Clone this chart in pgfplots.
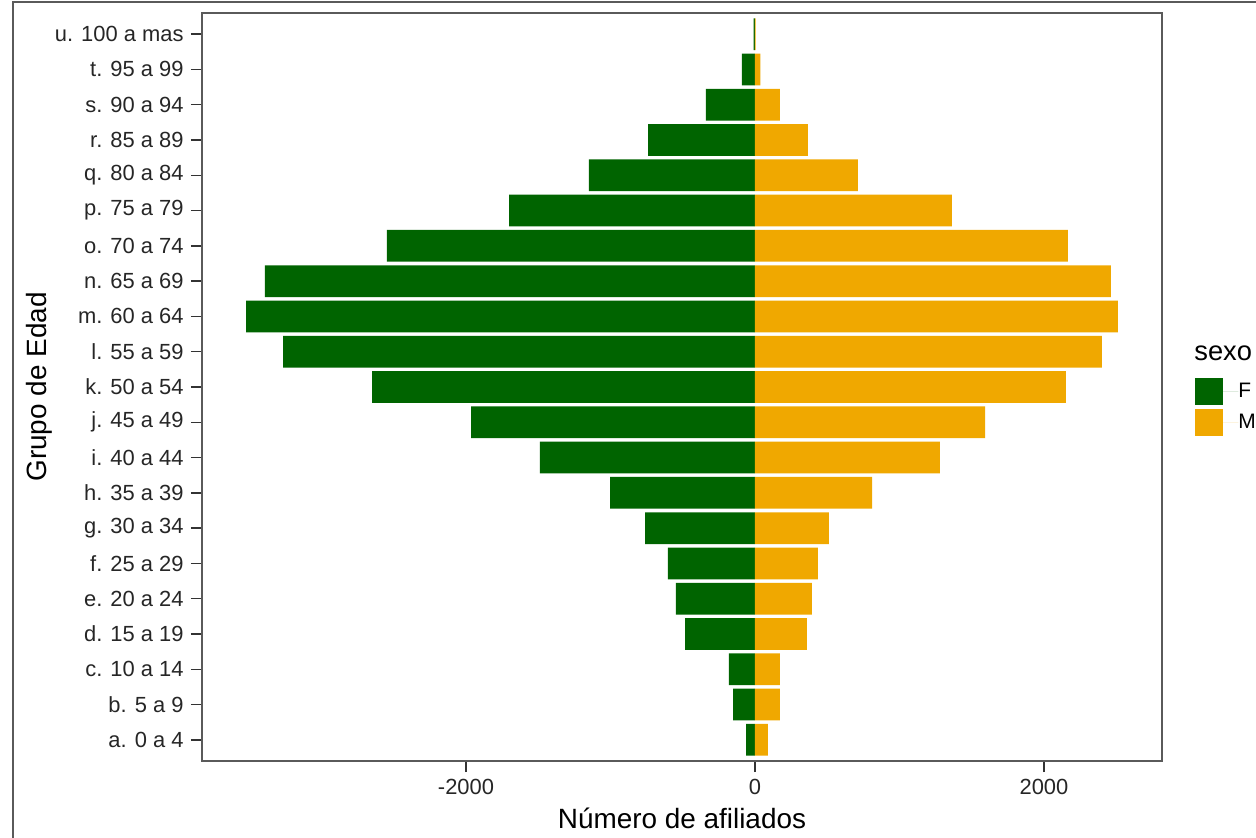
\documentclass[border=0pt]{standalone}
\usepackage{pgfplots}
\pgfplotsset{compat=1.18}
\usepackage{pgfplotstable}
\usepackage{fontspec}
\setmainfont{Liberation Sans}
\definecolor{fcol}{RGB}{0,100,0}
\definecolor{mcol}{RGB}{240,168,0}
\definecolor{framecol}{RGB}{90,90,90}

\pgfplotstableread{
y val
1 -62
2 -152
3 -180
4 -484
5 -547
6 -602
7 -761
8 -1003
9 -1488
10 -1965
11 -2650
12 -3266
13 -3522
14 -3391
15 -2547
16 -1702
17 -1149
18 -740
19 -339
20 -90
21 -10
}\dataF
\pgfplotstableread{
y val
1 90
2 173
3 173
4 360
5 394
6 436
7 512
8 810
9 1280
10 1592
11 2152
12 2401
13 2512
14 2464
15 2166
16 1363
17 713
18 367
19 173
20 37
21 4
}\dataM

\begin{document}
\begin{tikzpicture}
\useasboundingbox (0,0) rectangle (628bp,419bp);
\fill[white] (0,0) rectangle (628bp,419bp);
\draw[framecol, line width=0.9bp] (6.5bp,0) -- (6.5bp,418bp) -- (628bp,418bp);
\begin{axis}[
  at={(101bp,38.5bp)}, anchor=south west,
  scale only axis, width=480bp, height=374bp,
  xmin=-3827, xmax=2817, ymin=0.4, ymax=21.6,
  xbar, bar width=0.9, bar shift=0pt,
  xtick={-2000,0,2000}, xticklabels={-2000,0,2000},
  ytick={1,...,21},
  yticklabels={a. 0 a 4, b. 5 a 9, c. 10 a 14, d. 15 a 19, e. 20 a 24, f. 25 a 29, g. 30 a 34, h. 35 a 39, i. 40 a 44, j. 45 a 49, k. 50 a 54, l. 55 a 59, m. 60 a 64, n. 65 a 69, o. 70 a 74, p. 75 a 79, q. 80 a 84, r. 85 a 89, s. 90 a 94, t. 95 a 99, u. 100 a mas},
  tick align=outside, tick pos=left,
  major tick length=5.5bp,
  tick style={black!80, line width=0.7bp},
  axis line style={framecol, line width=0.9bp},
  ticklabel style={font=\fontsize{11}{13}\selectfont, text=black!85},
  yticklabel style={anchor=east, inner sep=0pt, xshift=-3.5bp},
  xticklabel style={anchor=north, inner sep=0pt, yshift=-3.5bp},
  xlabel={Número de afiliados},
  ylabel={Grupo de Edad},
  label style={font=\fontsize{14}{17}\selectfont},
  xlabel style={at={(axis description cs:0.5,-0.0896)}, anchor=base},
  ylabel style={at={(axis description cs:-0.1615,0.5)}, anchor=base, rotate=0},
  legend style={at={(axis description cs:1.0344,0.512)}, anchor=north west,
    draw=none, fill=none, inner sep=0pt, row sep=2bp,
    font=\fontsize{10.5}{12}\selectfont,
    nodes={inner sep=0pt}},
  legend cell align=left,
  legend image code/.code={\fill[#1] (0bp,-6.75bp) rectangle (14bp,6.75bp); \path (0bp,0bp) -- (21.5bp,0bp);},
]
\addplot[fill=fcol, draw=none] table[x=val, y=y] {\dataF};
\addlegendentry{F}
\addplot[fill=mcol, draw=none] table[x=val, y=y] {\dataM};
\addlegendentry{M}
\end{axis}
\node[anchor=base west, inner sep=0pt, font=\fontsize{13.7}{16}\selectfont] at (597bp,238.5bp) {sexo};
\end{tikzpicture}
\end{document}
